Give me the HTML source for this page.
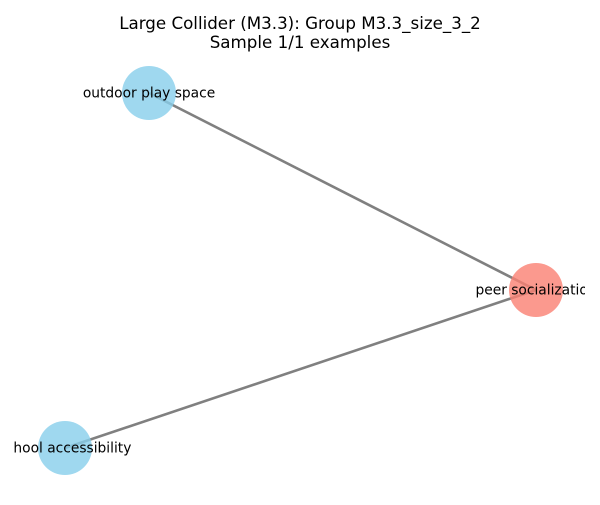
<!DOCTYPE html>
<html><head><style>body{margin:0;background:#fff}</style></head><body>
<svg width="600" height="500" xmlns="http://www.w3.org/2000/svg" font-family="'DejaVu Sans','Liberation Sans',sans-serif">
<defs><clipPath id="c"><rect x="13" y="60" width="572" height="430"/></clipPath></defs>
<rect width="600" height="500" fill="#fff"/>
<text x="300" y="29" font-size="16.7" text-anchor="middle">Large Collider (M3.3): Group M3.3_size_3_2</text>
<text x="300" y="48" font-size="16.7" text-anchor="middle">Sample 1/1 examples</text>
<g stroke="#808080" stroke-width="2.6">
<line x1="149" y1="93" x2="536" y2="290"/>
<line x1="65" y1="448" x2="536" y2="290"/>
</g>
<circle cx="149" cy="93" r="27" fill="#87CEEB" fill-opacity="0.8"/>
<circle cx="536" cy="290" r="27" fill="#FA8072" fill-opacity="0.8"/>
<circle cx="65" cy="448" r="27" fill="#87CEEB" fill-opacity="0.8"/>
<g font-size="13.8" text-anchor="middle" clip-path="url(#c)">
<text x="149" y="97.5">outdoor play space</text>
<text x="536" y="294.5">peer socialization</text>
<text x="65" y="452.5">school accessibility</text>
</g>
</svg>
</body></html>
